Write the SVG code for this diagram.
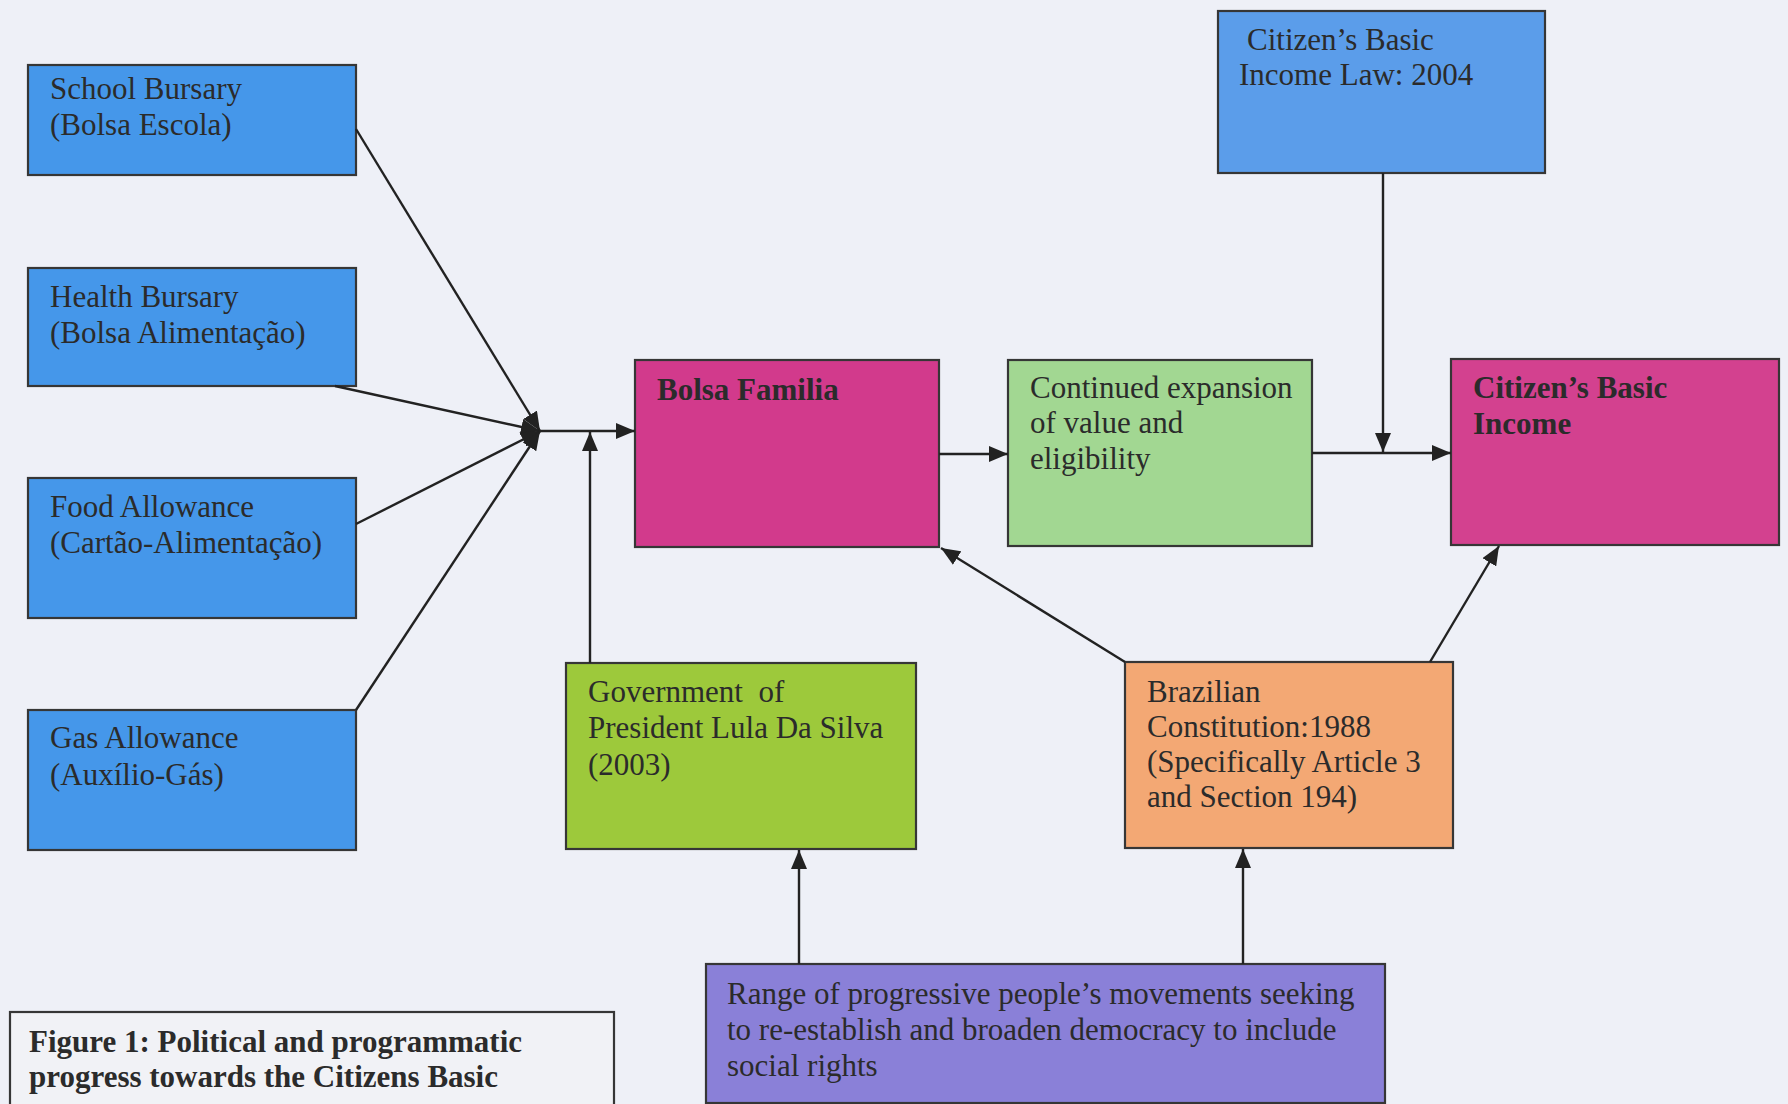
<svg xmlns="http://www.w3.org/2000/svg" width="1788" height="1104" viewBox="0 0 1788 1104">
<defs>
<marker id="ah" markerUnits="userSpaceOnUse" markerWidth="20" markerHeight="16" refX="19" refY="8" orient="auto">
<path d="M0,0 L19,8 L0,16 z" fill="#222"/>
</marker>
<style>
.box{stroke:#363636;stroke-width:2.2}
.t{font-family:"Liberation Serif","Times New Roman",serif;font-size:31px;fill:#2b2b2b}
.b{font-weight:bold}
.c{stroke:#222;stroke-width:2.4;fill:none;marker-end:url(#ah)}
</style>
</defs>
<rect width="1788" height="1104" fill="#eef0f7"/>
<g id="school">
<rect class="box" x="28" y="65" width="328" height="110" fill="#4597ea"/>
<text class="t" x="50" y="99">School Bursary</text>
<text class="t" x="50" y="135">(Bolsa Escola)</text>
</g>
<g id="health">
<rect class="box" x="28" y="268" width="328" height="118" fill="#4597ea"/>
<text class="t" x="50" y="307">Health Bursary</text>
<text class="t" x="50" y="343">(Bolsa Alimentação)</text>
</g>
<g id="food">
<rect class="box" x="28" y="478" width="328" height="140" fill="#4597ea"/>
<text class="t" x="50" y="517">Food Allowance</text>
<text class="t" x="50" y="553">(Cartão-Alimentação)</text>
</g>
<g id="gas">
<rect class="box" x="28" y="710" width="328" height="140" fill="#4597ea"/>
<text class="t" x="50" y="748">Gas Allowance</text>
<text class="t" x="50" y="785">(Auxílio-Gás)</text>
</g>
<g id="bolsa">
<rect class="box" x="635" y="360" width="304" height="187" fill="#d23a8c"/>
<text class="t b" x="657" y="400">Bolsa Familia</text>
</g>
<g id="expansion">
<rect class="box" x="1008" y="360" width="304" height="186" fill="#a2d792"/>
<text class="t" x="1030" y="398">Continued expansion</text>
<text class="t" x="1030" y="433">of value and</text>
<text class="t" x="1030" y="469">eligibility</text>
</g>
<g id="law">
<rect class="box" x="1218" y="11" width="327" height="162" fill="#5b9dea"/>
<text class="t" x="1247" y="50">Citizen’s Basic</text>
<text class="t" x="1239" y="85">Income Law: 2004</text>
</g>
<g id="cbi">
<rect class="box" x="1451" y="359" width="328" height="186" fill="#d3418f"/>
<text class="t b" x="1473" y="398">Citizen’s Basic</text>
<text class="t b" x="1473" y="434">Income</text>
</g>
<g id="government">
<rect class="box" x="566" y="663" width="350" height="186" fill="#9dc93b"/>
<text class="t" x="588" y="702" xml:space="preserve">Government  of</text>
<text class="t" x="588" y="738">President Lula Da Silva</text>
<text class="t" x="588" y="775">(2003)</text>
</g>
<g id="constitution">
<rect class="box" x="1125" y="662" width="328" height="186" fill="#f3a874"/>
<text class="t" x="1147" y="702">Brazilian</text>
<text class="t" x="1147" y="737">Constitution:1988</text>
<text class="t" x="1147" y="772">(Specifically Article 3</text>
<text class="t" x="1147" y="807">and Section 194)</text>
</g>
<g id="movements">
<rect class="box" x="706" y="964" width="679" height="139" fill="#8a80d8"/>
<text class="t" x="727" y="1004">Range of progressive people’s movements seeking</text>
<text class="t" x="727" y="1040">to re-establish and broaden democracy to include</text>
<text class="t" x="727" y="1076">social rights</text>
</g>
<g id="caption">
<rect class="box" x="10" y="1012" width="604" height="100" fill="#f1f2f6"/>
<text class="t b" x="29" y="1052">Figure 1: Political and programmatic</text>
<text class="t b" x="29" y="1087">progress towards the Citizens Basic</text>
</g>
<g id="connectors">
<path class="c" d="M356,129 L540,431"/>
<path class="c" d="M335,386 L540,431"/>
<path class="c" d="M356,524 L540,431"/>
<path class="c" d="M356,710 L540,431"/>
<path class="c" d="M540,431 L635,431"/>
<path class="c" d="M590,663 L590,432"/>
<path class="c" d="M939,454 L1008,454"/>
<path class="c" d="M1312,453 L1451,453"/>
<path class="c" d="M1383,173 L1383,452"/>
<path class="c" d="M1125,662 L941,548"/>
<path class="c" d="M1430,662 L1499,546"/>
<path class="c" d="M799,964 L799,850"/>
<path class="c" d="M1243,964 L1243,849"/>
</g>
</svg>
